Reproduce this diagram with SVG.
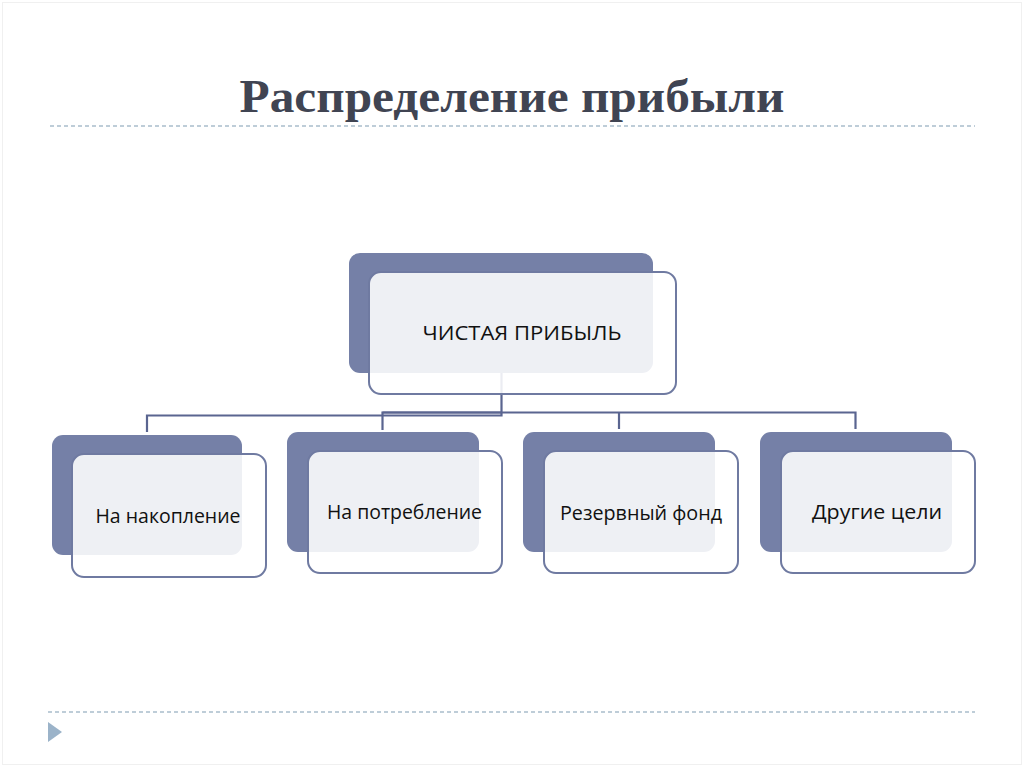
<svg xmlns="http://www.w3.org/2000/svg" width="1024" height="767" viewBox="0 0 1024 767">
<style>
.back{fill:#7580A7}
.front{fill:#FFFFFF;fill-opacity:0.88;stroke:#6F7AA1;stroke-width:2}
.lbl{font-family:"Open Sans","Noto Sans","DejaVu Sans",sans-serif;font-size:20px;fill:#111111;text-anchor:middle}
.conn{fill:none;stroke:#5A6590;stroke-width:2.2}
.rule{stroke:#A9BDCC;stroke-width:1.3;stroke-dasharray:4 3}
</style>
<rect x="0" y="0" width="1024" height="767" fill="#FFFFFF"/>
<rect x="2.5" y="2.5" width="1019" height="762" fill="none" stroke="#F0F0F0" stroke-width="1"/>
<text x="512" y="112" font-family="'Liberation Serif','DejaVu Serif',serif" font-weight="bold" font-size="46" fill="#404452" text-anchor="middle" textLength="545" lengthAdjust="spacingAndGlyphs">Распределение прибыли</text>
<line class="rule" x1="50" y1="126" x2="975" y2="126"/>
<line class="rule" x1="48" y1="712" x2="975" y2="712"/>
<polygon points="48,722 62,732 48,742" fill="#9BB3C9"/>
<g id="connectors">
<path class="conn" d="M501.5,373 V415.5 H147 V432"/>
<path class="conn" d="M501.5,412.5 H382.5 V430"/>
<path class="conn" d="M382.5,412.5 H855.5 V429"/>
<path class="conn" d="M619,412.5 V429"/>
</g>
<g id="node-root">
<rect class="back" x="349" y="253" width="304" height="120" rx="11"/>
<rect class="front" x="369" y="272" width="307" height="122" rx="12"/>
<text class="lbl" x="522" y="340" textLength="199" lengthAdjust="spacingAndGlyphs">ЧИСТАЯ ПРИБЫЛЬ</text>
</g>
<g id="node-1">
<rect class="back" x="52" y="435" width="190" height="120" rx="11"/>
<rect class="front" x="72" y="454" width="194" height="123" rx="12"/>
<text class="lbl" x="168" y="523" textLength="145" lengthAdjust="spacingAndGlyphs">На накопление</text>
</g>
<g id="node-2">
<rect class="back" x="287" y="432" width="192" height="120" rx="11"/>
<rect class="front" x="308" y="451" width="194" height="122" rx="12"/>
<text class="lbl" x="404.5" y="519" textLength="155" lengthAdjust="spacingAndGlyphs">На потребление</text>
</g>
<g id="node-3">
<rect class="back" x="523" y="432" width="192" height="120" rx="11"/>
<rect class="front" x="544" y="451" width="194" height="122" rx="12"/>
<text class="lbl" x="641" y="520" textLength="162" lengthAdjust="spacingAndGlyphs">Резервный фонд</text>
</g>
<g id="node-4">
<rect class="back" x="760" y="432" width="192" height="120" rx="11"/>
<rect class="front" x="781" y="451" width="194" height="122" rx="12"/>
<text class="lbl" x="877" y="519" textLength="130" lengthAdjust="spacingAndGlyphs">Другие цели</text>
</g>
</svg>
